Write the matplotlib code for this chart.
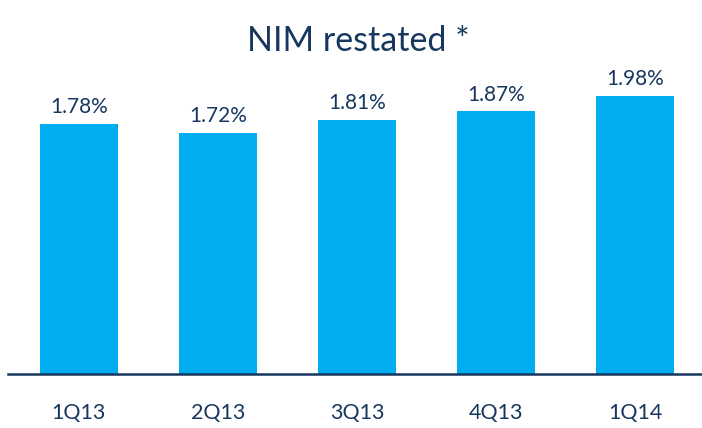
import matplotlib
matplotlib.use("Agg")
import matplotlib.pyplot as plt

plt.rcParams["font.family"] = ["Lato", "DejaVu Sans"]

quarters = ["1Q13", "2Q13", "3Q13", "4Q13", "1Q14"]
nim = [1.78, 1.72, 1.81, 1.87, 1.98]
labels = ["1.78%", "1.72%", "1.81%", "1.87%", "1.98%"]

BAR = "#00AEEF"
NAVY = "#17375E"

fig = plt.figure(figsize=(7.02, 4.28), dpi=100)
ax = fig.add_axes([0.0114, 0.1262, 0.9886, 0.82])

x = range(len(quarters))
ax.bar(x, nim, width=0.56, color=BAR, zorder=2)
for xi, v, lab in zip(x, nim, labels):
    ax.annotate(lab, (xi, v), xytext=(0, 5), textcoords="offset points",
                ha="center", va="bottom", fontsize=15, color=NAVY)

ax.set_xlim(-0.51, 4.48)
ax.set_ylim(0, 2.5)
ax.set_xticks(list(x))
ax.set_xticklabels(quarters, fontsize=15.5, color=NAVY)
ax.tick_params(axis="x", length=0, pad=21)
ax.set_yticks([])
for s in ["top", "right", "left"]:
    ax.spines[s].set_visible(False)
ax.spines["bottom"].set_color(NAVY)
ax.spines["bottom"].set_linewidth(1.8)

fig.text(0.51, 0.905, "NIM restated *", ha="center", va="center",
         fontsize=24.5, color=NAVY)

fig.savefig("out.png", dpi=100)
